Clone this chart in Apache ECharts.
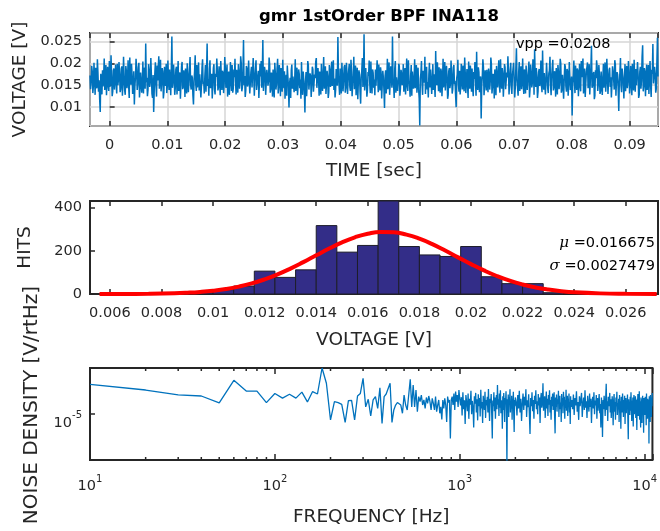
<!DOCTYPE html>
<html><head><meta charset="utf-8">
<script src="https://cdn.jsdelivr.net/npm/echarts@6/dist/echarts.min.js"></script>
<style>html,body{margin:0;padding:0;background:#fff}#c{width:660px;height:531px}</style>
</head><body><div id="c"></div>
<script>
// ================= DATA =================
const chartTitle = 'gmr 1stOrder BPF INA118';

// --- Time trace (values in units of 1e-4 V), evenly sampled from tStart to tEnd [s]
const tStart = -0.0034, tEnd = 0.0949;
const voltageE4 = [
172,141,158,194,181,132,149,201,166,128,190,151,143,209,177,135,161,118,89,176,152,129,184,147,170,211,139,168,196,127,163,192,148,137,205,146,157,218,171,125,136,183,188,140,166,197,154,131,199,150,
162,203,178,134,141,187,193,126,155,215,169,138,128,194,182,143,160,207,147,121,213,164,151,199,174,130,137,182,106,149,168,210,187,139,153,191,201,122,144,179,176,133,159,204,131,171,190,142,245,157,
167,125,139,198,184,146,158,212,172,130,121,173,89,140,176,202,150,124,195,161,163,216,142,178,208,136,155,189,181,120,134,192,170,148,199,132,148,206,165,139,186,158,127,184,261,144,158,197,174,128,
143,186,192,129,161,205,137,171,179,119,154,193,203,141,146,184,169,123,188,156,131,200,175,134,157,188,214,150,140,172,167,127,106,159,183,218,152,137,196,145,161,202,138,175,177,122,149,190,209,152,
158,131,171,196,135,182,245,148,164,126,187,207,143,166,176,120,152,189,198,141,129,176,169,211,184,138,147,193,161,127,205,168,139,183,178,132,155,214,190,144,166,197,124,155,181,128,150,203,173,137,
196,133,142,186,168,210,157,129,185,152,133,198,179,142,160,216,201,136,145,178,253,150,171,123,138,194,189,147,154,206,166,131,127,180,192,145,148,212,175,126,162,188,207,139,137,171,183,121,156,199,
170,205,144,176,253,137,163,192,181,128,130,185,174,149,159,213,197,133,141,179,168,124,186,157,122,201,177,140,153,188,210,131,146,196,171,125,189,162,135,208,164,143,182,119,151,174,126,195,193,147,
99,153,167,121,184,197,142,170,172,134,158,209,137,165,190,127,149,186,176,143,163,119,203,152,128,181,161,136,88,158,180,125,154,205,195,140,139,177,171,123,150,192,186,135,133,174,166,203,212,144,
147,189,164,126,181,154,129,199,158,137,176,214,142,167,193,130,155,183,170,121,134,196,185,146,161,204,148,173,207,139,165,122,139,187,178,149,260,171,152,128,188,164,131,201,173,136,159,191,196,133,
143,201,176,130,162,185,199,146,137,208,181,125,154,172,215,141,168,195,127,160,190,118,158,184,174,136,108,167,183,212,146,171,266,138,162,189,193,124,139,180,171,206,155,132,204,163,131,186,178,144,
163,127,186,149,145,207,170,134,197,162,138,191,179,120,152,183,167,139,98,171,184,131,159,210,141,176,202,128,156,193,175,144,261,160,149,121,188,205,133,168,169,137,154,199,194,126,142,185,177,150,
160,198,135,170,189,129,166,211,148,137,207,160,153,124,172,196,126,181,185,142,161,209,143,177,196,133,168,190,139,120,58,165,178,205,151,128,183,156,164,215,130,178,192,140,157,122,174,201,145,186,
187,130,162,198,139,175,176,123,228,159,150,202,168,136,191,147,133,188,181,125,158,210,145,171,203,138,166,194,172,119,128,182,189,143,154,206,177,131,141,190,196,152,160,127,100,166,174,208,152,135,
183,129,147,199,169,140,195,158,136,213,178,132,161,187,150,121,204,167,142,195,173,135,188,149,125,180,164,203,157,126,226,154,139,191,180,134,153,170,74,148,171,209,192,127,146,184,165,138,185,156,
134,188,177,140,159,213,198,131,148,176,170,120,186,165,127,194,163,145,181,207,150,133,209,172,142,189,175,124,156,198,191,141,138,179,168,216,183,129,152,185,201,147,130,173,174,201,161,122,145,190,
234,162,158,126,180,203,137,174,193,141,165,211,149,130,186,168,131,195,172,139,159,183,204,122,143,197,178,145,155,209,190,128,232,171,146,189,169,121,136,180,187,148,162,206,151,134,229,163,140,178,
176,129,163,201,197,143,132,177,184,215,150,127,171,190,208,138,145,182,166,124,189,158,129,196,179,141,156,210,200,133,141,174,173,119,160,198,192,147,135,187,182,126,153,203,168,139,147,170,81,151,
174,206,158,132,195,171,139,188,183,125,162,199,147,136,205,168,169,211,131,157,188,123,154,180,177,202,143,165,198,129,160,192,240,144,149,175,180,118,126,184,166,207,191,137,152,196,173,130,137,181,
185,128,164,199,144,172,202,135,158,210,176,130,133,185,190,146,168,122,151,193,182,163,140,207,197,126,161,180,174,139,91,158,179,212,148,134,188,171,155,120,170,198,136,176,194,143,159,205,183,131,
145,194,172,127,199,160,138,208,166,135,187,150,153,203,175,121,128,181,192,142,160,214,241,136,147,189,181,125,163,197,139,168,196,130,171,205,150,123,185,176,244,154,157,192,176,133,142,199,258,170
];
const vppText = 'vpp =0.0208';

// --- Histogram of voltages
const binEdges = [0.0084,0.0092,0.0100,0.0108,0.0116,0.0124,0.0132,0.0140,0.0148,0.0156,0.0164,
                  0.0172,0.0180,0.0188,0.0196,0.0204,0.0212,0.0220,0.0228,0.0236,0.0244];
const hits = [2,6,20,37,106,77,112,317,194,225,431,220,181,174,220,80,48,48,6,2];
// Normal fit curve
const fitVolt = [0.0056,0.0065,0.0075,0.0085,0.009,0.0095,0.010,0.0105,0.011,0.0115,0.012,0.0125,0.013,
  0.0135,0.014,0.0145,0.015,0.0155,0.016,0.0165,0.017,0.0175,0.018,0.0185,0.019,0.0195,0.020,0.0205,
  0.021,0.0215,0.022,0.0225,0.023,0.0235,0.024,0.025,0.026,0.0272];
const fitHits = [0.1,0.3,1.1,3.4,5.8,9.5,15.1,23.0,34.2,48.9,67.8,90.8,117.8,147.8,179.3,210.5,239.2,
  262.8,279.4,287.4,286.0,275.3,256.4,231.0,201.3,169.8,138.5,109.3,83.4,61.6,44.0,30.4,20.4,13.2,8.2,2.9,0.9,0.2];
const muText = '=0.016675';
const sigmaText = '=0.0027479';

// --- Noise density (units of 1e-5 V/rtHz), three frequency segments
const psdLowStart = 10, psdLowStep = 10;
const psdLow = [
1.95,1.71,1.53,1.49,1.27,2.14,1.67,1.67,1.28,1.58,
1.42,1.55,1.42,1.63,1.30,1.65,1.56,2.84,2.00,0.86,
1.31,1.28,1.23,0.81,1.34,1.35,0.86,1.49,1.58,2.24,
1.16,1.38,0.94,1.36,1.47,1.12,1.80,0.79,1.47,1.56,
1.61,2.00,0.81,1.08,1.21,1.28,1.26,1.21,1.00,1.52,
1.21,1.08,1.10,2.19,1.16,1.92,1.16,1.71,1.04,1.47,
1.31,1.52,1.21,1.36,1.12,1.44,1.26,1.49,1.31,1.08,
1.41,1.26,1.08,1.47,1.04,1.21,1.36,1.00,1.16,0.87,
1.36,1.12,1.41,1.21,0.82,1.47,1.28,1.36,0.56,1.36,
1.47,1.21,1.58,1.08,1.65,1.31,1.52,1.16,1.71,1.41,
1.20,1.45,0.95,1.62,1.10,1.35,0.78,1.52,1.28,1.05,
1.58,0.88,1.40,1.22,1.68,0.98,1.33,1.15,0.72,1.48,
1.25,1.60,1.02,1.38,0.85,1.55,1.18,1.42,0.93,1.72,
1.12,1.30,0.80,1.50,1.26,1.08,1.64,0.90,1.36,1.20,
1.46,1.02,1.75,1.15,0.84,1.40,1.28,1.56,0.96,0.56,
1.34,1.18,1.62,1.05,1.44,0.88,1.30,1.52,1.10,1.92,
1.22,1.38,0.94,1.58,1.14,1.70,1.00,1.35,1.24,0.70,
1.48,1.08,1.60,1.20,0.82,1.42,1.30,1.66,1.05,0.30,
1.38,1.16,1.54,0.92,1.45,1.26,1.74,1.02,1.32,1.12,
1.50,0.86,1.40,1.22,1.64,0.96,0.65,1.36,1.18,1.44
];
const psdMidStart = 2020, psdMidStep = 20;
const psdMid = [
1.30,0.95,1.52,1.12,1.68,1.02,1.40,0.84,1.25,1.58,
1.08,1.46,1.20,1.74,0.92,1.35,1.15,1.55,1.00,0.62,
1.42,1.18,1.62,1.05,1.36,0.88,1.50,1.24,1.70,1.10,
1.32,0.98,1.56,1.20,1.44,0.80,1.38,1.60,1.14,1.28,
2.00,1.06,1.34,1.48,0.90,1.26,1.65,1.12,1.40,0.94,
1.52,1.22,1.70,1.02,1.36,0.86,1.46,1.18,1.58,1.08,
1.30,1.62,0.96,0.63,1.44,1.16,1.54,1.04,1.38,1.24,
1.68,0.92,1.34,1.50,1.10,1.28,0.82,1.56,1.20,1.42,
1.00,1.64,1.26,1.46,0.88,1.36,1.14,1.72,1.06,1.32,
1.50,0.94,1.40,1.22,1.58,1.02,1.30,0.78,1.48,1.16
];
const psdHighStart = 4040, psdHighStep = 40;
const psdHigh = [
1.36,1.10,1.54,0.96,1.42,1.20,1.66,1.04,1.30,0.86,
1.48,1.18,1.38,1.60,0.92,1.26,1.44,1.08,1.70,1.14,
1.32,0.90,1.50,1.22,1.04,1.58,1.16,1.40,0.80,1.28,
1.46,1.12,1.62,0.98,1.34,1.20,1.52,0.88,1.42,1.06,
1.30,1.56,1.00,1.24,0.72,1.44,1.16,0.58,1.36,1.10,
1.50,1.26,0.94,1.40,1.97,1.08,1.32,0.84,1.46,1.18,
1.28,1.60,1.02,1.38,0.90,1.22,1.48,1.12,0.76,1.34,
1.56,1.04,1.30,0.86,1.44,1.18,1.64,0.96,1.26,1.10,
1.40,0.82,1.52,1.14,1.32,0.70,1.46,1.20,1.02,1.58,
1.24,0.92,1.36,1.08,1.50,0.78,1.28,1.42,1.00,1.34,
1.16,1.54,0.88,0.55,1.38,1.12,1.30,0.96,1.46,1.06,
1.62,1.20,0.84,1.34,1.10,1.44,0.74,1.26,1.52,0.98,
1.30,1.14,1.48,0.90,1.36,1.04,0.68,1.40,1.22,1.56,
0.94,1.28,1.10,1.66,0.86,1.32,1.18,0.72,1.44,1.06,
1.38,0.80,1.24,1.50,1.02,1.30,0.64,1.42,1.14,1.26,
0.96,1.46,1.08,1.34,0.76,1.58,1.12,1.28,0.88,1.40,
1.20,1.04,1.36,0.50,1.48,1.16,1.30,0.82,1.52,1.10,
1.34,0.92,1.44,1.18,1.60
];
// minor log ticks of the frequency axis
const minorFreqs = [20,30,40,50,60,70,80,90,200,300,400,500,600,700,800,900,2000,3000,4000,5000,6000,7000,8000,9000];

// ================= BUILD =================
const FONT = 'DejaVu Sans';
const TXT = '#262626';

const timeData = voltageE4.map((v, i) => [tStart + i * (tEnd - tStart) / (voltageE4.length - 1), v * 1e-4]);
const histData = hits.map((h, i) => [binEdges[i], binEdges[i + 1], h]);
const fitData = fitVolt.map((v, i) => [v, fitHits[i]]);
const psdData = [];
psdLow.forEach((v, i) => psdData.push([psdLowStart + i * psdLowStep, v * 1e-5]));
psdMid.forEach((v, i) => psdData.push([psdMidStart + i * psdMidStep, v * 1e-5]));
psdHigh.forEach((v, i) => psdData.push([psdHighStart + i * psdHighStep, v * 1e-5]));

const gridBox = {show: true, borderColor: TXT, borderWidth: 2, backgroundColor: 'transparent'};
const tick = (len) => ({show: true, inside: true, length: len, lineStyle: {color: TXT, width: 1.5}});
const lbl = (extra) => Object.assign({color: TXT, fontFamily: FONT, fontSize: 14.5}, extra || {});
const nameStyle = {color: TXT, fontFamily: FONT, fontSize: 18.5};
const grayGrid = {show: true, lineStyle: {color: '#d6d6d6', width: 1.5}};

function pow10Label(v) {
  const e = Math.log10(v);
  if (Math.abs(e - Math.round(e)) > 1e-6) return '';
  return '{b|10}{s|' + Math.round(e) + '}';
}
const powRich = {
  b: {fontFamily: FONT, fontSize: 14.5, color: TXT, lineHeight: 20, verticalAlign: 'bottom'},
  s: {fontFamily: FONT, fontSize: 10, color: TXT, lineHeight: 12, verticalAlign: 'top'}
};

const option = {
  animation: false,
  backgroundColor: '#fff',
  title: {text: chartTitle, left: 374, top: 3, textAlign: 'center',
    textStyle: {fontFamily: FONT, fontSize: 16.5, fontWeight: 'bold', color: '#000'}},
  grid: [
    Object.assign({left: 90, right: 2, top: 33, height: 93}, gridBox),
    Object.assign({left: 90, right: 2, top: 201, height: 93}, gridBox),
    Object.assign({left: 90, right: 2, top: 368, height: 92}, gridBox)
  ],
  xAxis: [
    {gridIndex: 0, type: 'value', min: tStart, max: tEnd, splitNumber: 10,
     axisLine: {show: false}, axisTick: tick(5), splitLine: grayGrid,
     axisLabel: lbl({margin: 12, showMinLabel: false, showMaxLabel: false}),
     name: 'TIME [sec]', nameLocation: 'middle', nameGap: 36, nameTextStyle: nameStyle},
    {gridIndex: 0, type: 'value', position: 'top', min: tStart, max: tEnd, splitNumber: 10,
     axisLine: {show: false}, axisTick: tick(5), axisLabel: {show: false}, splitLine: {show: false}},
    {gridIndex: 1, type: 'value', min: 0.00523, max: 0.02725, splitNumber: 11,
     axisLine: {show: false}, axisTick: tick(5), splitLine: {show: false},
     axisLabel: lbl({margin: 12, showMinLabel: false, showMaxLabel: false}),
     name: 'VOLTAGE [V]', nameLocation: 'middle', nameGap: 37, nameTextStyle: nameStyle},
    {gridIndex: 1, type: 'value', position: 'top', min: 0.00523, max: 0.02725, splitNumber: 11,
     axisLine: {show: false}, axisTick: tick(5), axisLabel: {show: false}, splitLine: {show: false}},
    {gridIndex: 2, type: 'log', logBase: 10, min: 10, max: 11025,
     axisLine: {show: false}, axisTick: tick(6), splitLine: {show: false},
     axisLabel: lbl({margin: 14, formatter: pow10Label, rich: powRich}),
     name: 'FREQUENCY [Hz]', nameLocation: 'middle', nameGap: 48, nameTextStyle: nameStyle},
    {gridIndex: 2, type: 'log', logBase: 10, position: 'top', min: 10, max: 11025,
     axisLine: {show: false}, axisTick: tick(6), axisLabel: {show: false}, splitLine: {show: false}}
  ],
  yAxis: [
    {gridIndex: 0, type: 'value', min: 0.0057, max: 0.0269, splitNumber: 4,
     axisLine: {show: false}, axisTick: tick(5), splitLine: grayGrid,
     axisLabel: lbl({margin: 8, showMinLabel: false, showMaxLabel: false}),
     name: 'VOLTAGE [V]', nameLocation: 'middle', nameGap: 57, nameTextStyle: nameStyle},
    {gridIndex: 1, type: 'value', min: 0, max: 431, interval: 200,
     axisLine: {show: false}, axisTick: tick(5), splitLine: {show: false},
     axisLabel: lbl({margin: 8, showMaxLabel: false}),
     name: 'HITS', nameLocation: 'middle', nameGap: 55, nameTextStyle: nameStyle},
    {gridIndex: 2, type: 'log', logBase: 10, min: 3.41e-6, max: 2.84e-5,
     axisLine: {show: false}, axisTick: tick(5), splitLine: {show: false},
     axisLabel: lbl({margin: 8, formatter: pow10Label, rich: powRich, padding: [14, 0, 0, 0]}),
     name: 'NOISE DENSITY [V/rtHz]', nameLocation: 'middle', nameGap: 48,
     nameTextStyle: Object.assign({}, nameStyle, {fontSize: 20, padding: [0, 0, 0, 18]})}
  ],
  series: [
    {type: 'line', xAxisIndex: 0, yAxisIndex: 0, data: timeData, showSymbol: false, symbol: 'none',
     lineStyle: {color: '#0072bd', width: 1.5}, sampling: null, z: 3},
    {type: 'custom', xAxisIndex: 2, yAxisIndex: 1, data: histData,
     encode: {x: [0, 1], y: 2},
     renderItem: function (params, api) {
       const p1 = api.coord([api.value(0), api.value(2)]);
       const p2 = api.coord([api.value(1), 0]);
       return {type: 'rect', shape: {x: p1[0], y: p1[1], width: p2[0] - p1[0], height: p2[1] - p1[1]},
               style: {fill: '#332d88', stroke: '#1e1e2a', lineWidth: 1}};
     }, z: 2},
    {type: 'line', xAxisIndex: 2, yAxisIndex: 1, data: fitData, showSymbol: false, symbol: 'none', smooth: true,
     lineStyle: {color: '#ff0000', width: 4}, z: 4},
    {type: 'line', xAxisIndex: 4, yAxisIndex: 2, data: psdData, showSymbol: false, symbol: 'none',
     lineStyle: {color: '#0072bd', width: 1.3}, sampling: null, z: 3},
    {type: 'custom', xAxisIndex: 4, yAxisIndex: 2, data: minorFreqs.map(f => [f, 1e-5]),
     encode: {x: 0, y: 1},
     renderItem: function (params, api) {
       const x = api.coord([api.value(0), 1e-5])[0];
       const cs = params.coordSys;
       const st = {stroke: TXT, lineWidth: 1.5};
       return {type: 'group', children: [
         {type: 'line', shape: {x1: x, y1: cs.y, x2: x, y2: cs.y + 3}, style: st},
         {type: 'line', shape: {x1: x, y1: cs.y + cs.height, x2: x, y2: cs.y + cs.height - 3}, style: st}
       ]};
     }, z: 5}
  ],
  graphic: [
    {type: 'text', left: 516, top: 37, z: 100,
     style: {text: vppText, font: '14.5px "DejaVu Sans"', fill: '#000'}},
    {type: 'text', right: 5, top: 236, z: 100,
     style: {text: '{g|μ} ' + muText, font: '14.5px "DejaVu Sans"', fill: '#000',
             rich: {g: {fontFamily: 'DejaVu Serif', fontStyle: 'italic', fontSize: 15, fill: '#000'}}}},
    {type: 'text', right: 5, top: 259, z: 100,
     style: {text: '{g|σ} ' + sigmaText, font: '14.5px "DejaVu Sans"', fill: '#000',
             rich: {g: {fontFamily: 'DejaVu Serif', fontStyle: 'italic', fontSize: 15, fill: '#000'}}}}
  ]
};

const chart = echarts.init(document.getElementById('c'), null, {renderer: 'canvas'});
chart.setOption(option);
</script>
</body></html>
